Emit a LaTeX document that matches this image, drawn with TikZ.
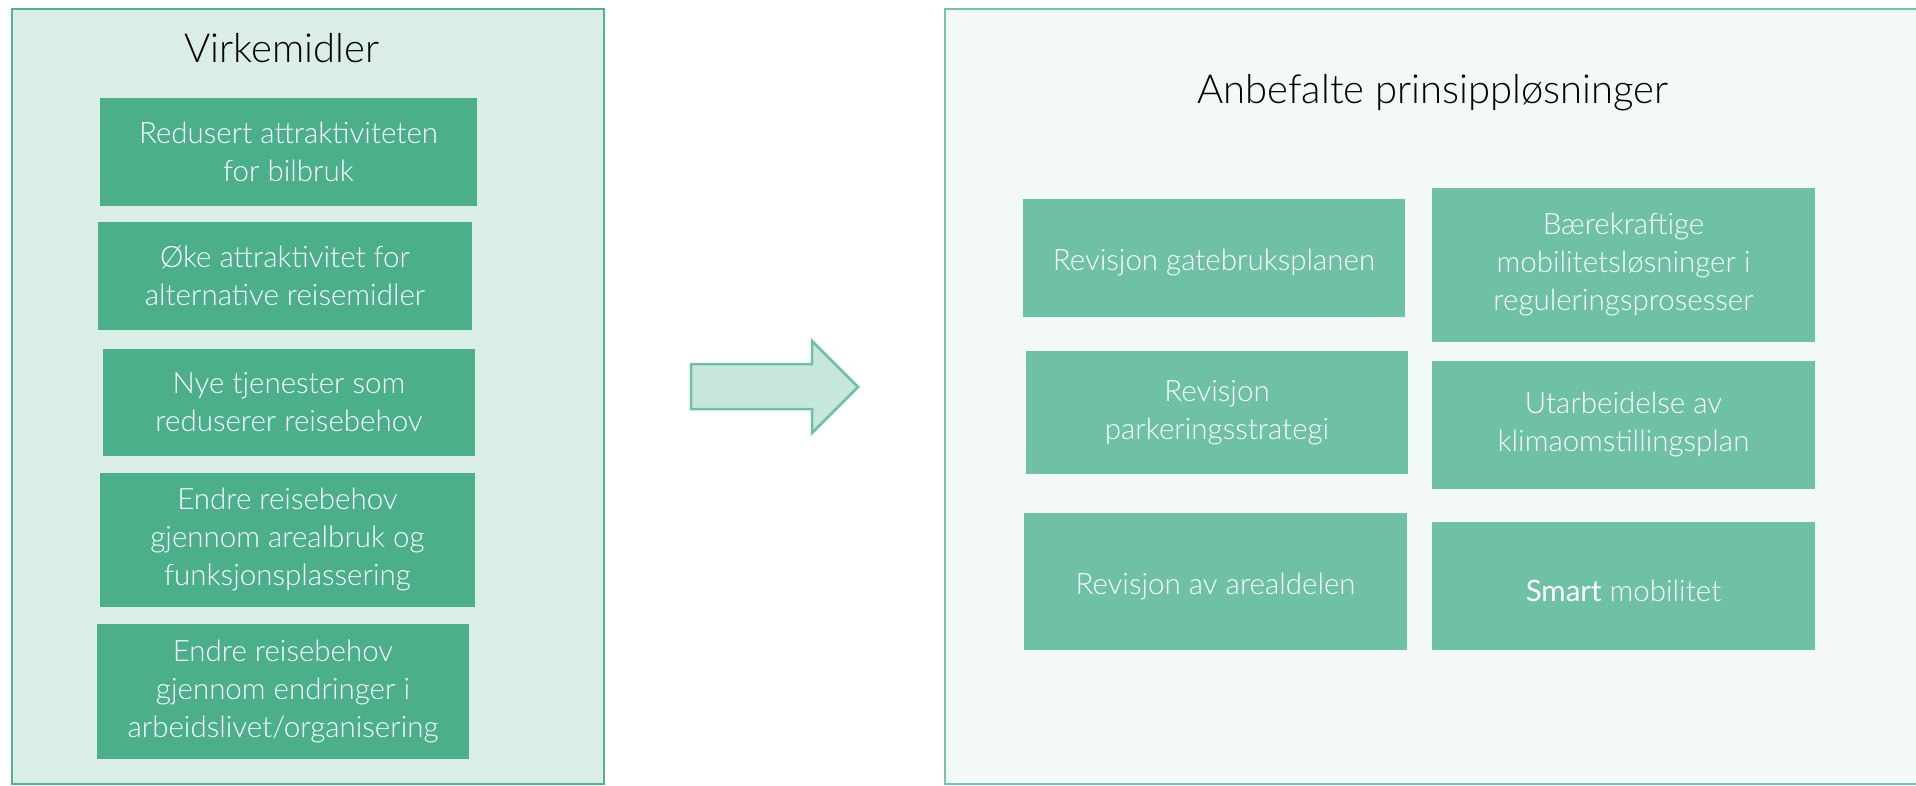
\documentclass[tikz,border=0pt]{standalone}
\usepackage{fontspec}
\setmainfont{Lato}[UprightFont=* Light,BoldFont=* Regular]
\definecolor{panelL}{HTML}{DAEEE7}
\definecolor{edgeL}{HTML}{52B38E}
\definecolor{boxL}{HTML}{4BAF8A}
\definecolor{panelR}{HTML}{F3F9F7}
\definecolor{edgeR}{HTML}{72C5A6}
\definecolor{boxR}{HTML}{6EC1A4}
\definecolor{arrowfill}{HTML}{C8E7DC}

\begin{document}
\begin{tikzpicture}[x=1pt,y=-1pt,
  lbox/.style={fill=boxL,text=white,align=center,inner sep=0pt,font=\fontsize{29.5}{38}\selectfont,
    execute at begin node={\rule{0pt}{31pt}}},
  rbox/.style={lbox,fill=boxR},
  sz/.style 2 args={minimum width=#1pt,minimum height=#2pt},
  ptitle/.style={font=\fontsize{40}{46}\selectfont,text=black}]
\useasboundingbox (0,0) rectangle (1916,786);
\clip (0,0) rectangle (1916,786);
%left panel
\draw[line width=2.5pt,draw=edgeL,fill=panelL] (12,9) rectangle (604,784);
\node[ptitle] (virk) at (282,48) {Virkemidler};
\node[lbox,sz={377}{108}] (bil) at (288.5,152) {Redusert attraktiviteten\\for bilbruk};
\node[lbox,sz={374}{108}] (alt) at (285,276) {Øke attraktivitet for\\alternative reisemidler};
\node[lbox,sz={372}{107}] (tjen) at (289,402.5) {Nye tjenester som\\reduserer reisebehov};
\node[lbox,sz={375}{134}] (areal) at (287.5,540) {Endre reisebehov\\gjennom arealbruk og\\funksjonsplassering};
\node[lbox,sz={372}{135}] (arb) at (283,691.5) {Endre reisebehov\\gjennom endringer i\\arbeidslivet/organisering};
% arrow
\draw[line width=2.5pt,draw=boxR,fill=arrowfill,line join=miter]
  (691,364) -- (812,364) -- (812,341) -- (858,387) -- (812,433) -- (812,409) -- (691,409) -- cycle;
%right panel
\draw[line width=2.5pt,draw=edgeR,fill=panelR] (945,9) rectangle (1940,784);
\node[ptitle] (anb) at (1433,93) {Anbefalte prinsippløsninger};
\node[rbox,sz={382}{118}] (gate) at (1214,258) {Revisjon gatebruksplanen};
\node[rbox,sz={383}{154}] (baer) at (1623.5,265) {Bærekraftige\\mobilitetsløsninger i\\reguleringsprosesser};
\node[rbox,sz={382}{123}] (park) at (1217,412.5) {Revisjon\\parkeringsstrategi};
\node[rbox,sz={383}{128}] (klima) at (1623.5,425) {Utarbeidelse av\\klimaomstillingsplan};
\node[rbox,sz={383}{137}] (arealdel) at (1215.5,581.5) {Revisjon av arealdelen};
\node[rbox,sz={383}{128}] (smart) at (1623.5,586) {\textbf{Smart} mobilitet};
\end{tikzpicture}
\end{document}
